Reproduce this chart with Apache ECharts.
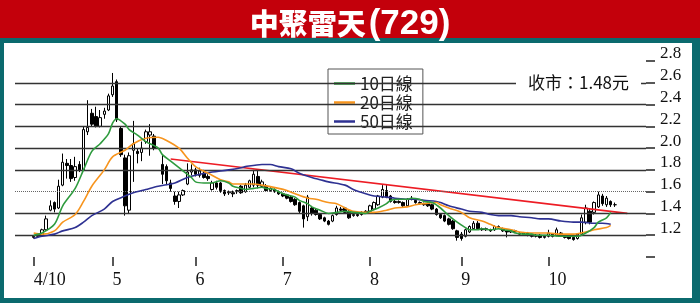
<!DOCTYPE html>
<html><head><meta charset="utf-8">
<script src="https://cdn.jsdelivr.net/npm/echarts@6/dist/echarts.min.js"></script>
<style>html,body{margin:0;padding:0;background:#0b6a6e;}#c{width:700px;height:303px;}</style>
</head><body><div id="c"></div>
<script>
// month tick positions (trading-day index) and labels
const tickIndex = [0, 19, 39, 60, 81, 103, 124];
const tickLabels = ['4/10', '5', '6', '7', '8', '9', '10'];
// daily candles: [open, close, low, high]
const candles = [
[1.18,1.19,1.17,1.20],[1.19,1.21,1.18,1.22],[1.20,1.25,1.19,1.26],[1.25,1.35,1.24,1.38],[1.43,1.47,1.42,1.52],
[1.50,1.44,1.41,1.51],[1.45,1.65,1.44,1.71],[1.66,1.87,1.65,1.95],[1.86,1.84,1.72,1.90],[1.84,1.72,1.69,1.90],
[1.73,1.83,1.70,1.92],[1.85,1.80,1.78,1.88],[1.80,2.17,1.79,2.20],[2.15,2.19,2.12,2.44],[2.32,2.22,2.20,2.36],
[2.29,2.20,2.19,2.38],[2.20,2.28,2.19,2.35],[2.31,2.34,2.27,2.37],[2.35,2.48,2.34,2.50],[2.49,2.57,2.47,2.69],
[2.61,2.26,2.24,2.63],[2.18,1.94,1.92,2.20],[1.91,1.47,1.38,1.94],[1.43,1.93,1.40,1.96],[1.98,2.04,1.69,2.25],
[1.97,1.95,1.86,2.00],[1.96,2.00,1.88,2.06],[2.06,2.15,2.04,2.17],[2.12,2.15,1.93,2.22],[2.11,2.00,1.98,2.13],
'-',[1.85,1.76,1.67,1.94],[1.83,1.70,1.66,1.85],[1.68,1.63,1.60,1.71],[1.56,1.51,1.48,1.60],
[1.51,1.57,1.45,1.60],[1.57,1.61,1.56,1.62],[1.67,1.78,1.66,1.86],[1.78,1.80,1.75,1.85],[1.80,1.76,1.74,1.82],
[1.75,1.79,1.73,1.82],[1.77,1.73,1.72,1.80],[1.74,1.72,1.70,1.76],[1.62,1.68,1.61,1.70],[1.68,1.64,1.62,1.70],
[1.68,1.61,1.59,1.69],[1.61,1.58,1.56,1.62],[1.59,1.60,1.57,1.61],[1.59,1.58,1.55,1.61],[1.60,1.61,1.58,1.62],
[1.65,1.59,1.58,1.66],[1.60,1.66,1.59,1.68],[1.64,1.70,1.63,1.71],[1.66,1.76,1.64,1.80],[1.74,1.66,1.63,1.79],
[1.65,1.69,1.64,1.71],[1.65,1.61,1.60,1.67],[1.61,1.63,1.60,1.64],[1.62,1.60,1.59,1.63],[1.60,1.58,1.57,1.61],
[1.58,1.56,1.55,1.59],[1.57,1.54,1.53,1.58],[1.55,1.51,1.50,1.56],[1.53,1.48,1.47,1.54],[1.50,1.42,1.40,1.51],
[1.47,1.35,1.27,1.48],[1.37,1.55,1.33,1.57],[1.45,1.40,1.38,1.47],[1.43,1.39,1.38,1.45],[1.39,1.35,1.34,1.40],
[1.36,1.33,1.32,1.37],[1.33,1.30,1.29,1.34],[1.33,1.38,1.32,1.39],[1.39,1.45,1.38,1.47],[1.44,1.43,1.42,1.46],
[1.45,1.41,1.40,1.46],[1.42,1.36,1.35,1.43],[1.38,1.39,1.37,1.40],[1.39,1.38,1.37,1.40],[1.39,1.41,1.38,1.42],
[1.41,1.42,1.40,1.43],[1.42,1.47,1.41,1.48],[1.44,1.50,1.43,1.51],[1.48,1.56,1.47,1.57],[1.55,1.62,1.54,1.66],
[1.61,1.55,1.54,1.66],[1.56,1.51,1.50,1.57],[1.51,1.50,1.49,1.53],[1.50,1.51,1.49,1.52],[1.50,1.47,1.46,1.51],
[1.47,1.53,1.46,1.54],[1.53,1.54,1.52,1.56],[1.52,1.50,1.49,1.53],[1.50,1.49,1.48,1.51],[1.49,1.48,1.47,1.50],
[1.49,1.47,1.46,1.50],[1.48,1.44,1.43,1.49],[1.44,1.39,1.38,1.45],[1.39,1.36,1.35,1.40],[1.38,1.33,1.32,1.39],
[1.35,1.30,1.29,1.36],[1.33,1.26,1.25,1.34],[1.24,1.18,1.15,1.25],[1.21,1.17,1.15,1.23],[1.19,1.25,1.18,1.26],
[1.23,1.28,1.22,1.29],[1.26,1.31,1.25,1.33],[1.31,1.26,1.25,1.33],[1.26,1.25,1.24,1.27],[1.25,1.26,1.24,1.27],
[1.25,1.24,1.23,1.26],[1.25,1.28,1.24,1.29],[1.28,1.27,1.26,1.29],[1.26,1.24,1.23,1.27],[1.24,1.23,1.18,1.25],
[1.23,1.24,1.22,1.25],[1.24,1.23,1.22,1.25],[1.22,1.21,1.20,1.23],[1.21,1.22,1.20,1.23],[1.22,1.20,1.19,1.23],
[1.20,1.19,1.18,1.21],[1.19,1.20,1.18,1.21],[1.20,1.18,1.17,1.21],[1.18,1.19,1.17,1.20],[1.19,1.22,1.18,1.25],
[1.21,1.19,1.18,1.22],[1.20,1.25,1.19,1.27],[1.22,1.20,1.19,1.23],[1.20,1.18,1.17,1.21],[1.19,1.17,1.16,1.20],
[1.18,1.16,1.15,1.19],[1.17,1.21,1.16,1.22],[1.21,1.36,1.20,1.39],[1.32,1.45,1.30,1.48],[1.42,1.32,1.30,1.44],
[1.41,1.50,1.39,1.51],[1.46,1.57,1.45,1.60],[1.56,1.49,1.47,1.58],[1.48,1.54,1.46,1.56],[1.51,1.48,1.46,1.52],
[1.48,1.48,1.46,1.50]
];
// moving averages: [dayIndex, value]
const ma10 = [[0,1.20],[2,1.22],[5,1.30],[7,1.47],[10,1.63],[12,1.80],[14,1.97],[16,2.04],[18,2.13],[19,2.23],[20,2.27],
[22,2.22],[23,2.17],[25,2.12],[27,2.06],[30,2.00],[31,1.94],[33,1.88],[35,1.82],[38,1.73],[39,1.69],[41,1.68],[43,1.68],
[45,1.70],[47,1.68],[48,1.65],[50,1.63],[51,1.62],[53,1.63],[55,1.64],[56,1.63],[58,1.62],[59,1.60],[61,1.57],[63,1.55],
[64,1.52],[66,1.49],[67,1.46],[69,1.43],[71,1.40],[73,1.41],[75,1.42],[77,1.41],[80,1.40],[81,1.42],[83,1.45],[85,1.49],
[86,1.52],[88,1.53],[90,1.53],[91,1.54],[93,1.53],[94,1.51],[96,1.50],[98,1.45],[100,1.38],[102,1.32],[104,1.27],[105,1.25],
[107,1.25],[108,1.26],[110,1.25],[112,1.26],[113,1.25],[115,1.24],[116,1.22],[118,1.21],[120,1.21],[121,1.20],[124,1.20],
[127,1.19],[130,1.19],[131,1.19],[133,1.22],[135,1.27],[136,1.32],[138,1.36],[139,1.41]];
const ma20 = [[0,1.22],[2,1.21],[5,1.24],[7,1.32],[10,1.39],[12,1.51],[14,1.65],[17,1.80],[19,1.92],[22,1.98],[24,2.04],
[27,2.09],[30,2.10],[32,2.07],[35,2.00],[37,1.91],[39,1.83],[42,1.77],[45,1.71],[47,1.69],[48,1.67],[53,1.67],[55,1.66],
[59,1.63],[61,1.61],[63,1.58],[66,1.54],[68,1.53],[71,1.50],[73,1.49],[75,1.45],[77,1.42],[80,1.41],[82,1.41],[85,1.43],
[87,1.45],[90,1.46],[92,1.48],[94,1.49],[97,1.50],[98,1.48],[100,1.45],[103,1.41],[105,1.36],[108,1.33],[110,1.30],
[112,1.27],[115,1.25],[117,1.23],[120,1.22],[122,1.22],[124,1.22],[127,1.21],[130,1.21],[133,1.23],[135,1.25],[138,1.27],[139,1.29]];
const ma50 = [[0,1.17],[2,1.19],[5,1.21],[7,1.24],[10,1.27],[12,1.32],[14,1.38],[17,1.44],[19,1.51],[22,1.56],[24,1.59],
[27,1.62],[30,1.65],[34,1.68],[37,1.73],[40,1.76],[43,1.78],[47,1.80],[50,1.82],[51,1.83],[55,1.85],[57,1.85],[59,1.83],
[62,1.81],[64,1.77],[67,1.73],[69,1.71],[71,1.69],[75,1.66],[77,1.62],[80,1.58],[82,1.56],[85,1.55],[87,1.54],[90,1.53],
[92,1.53],[94,1.52],[97,1.51],[98,1.50],[100,1.47],[103,1.44],[105,1.42],[108,1.41],[110,1.39],[112,1.38],[115,1.38],
[117,1.37],[120,1.36],[122,1.35],[124,1.35],[127,1.33],[130,1.32],[132,1.32],[135,1.31],[137,1.31],[139,1.30]];
const trendLine = [[33,1.90],[143,1.40]];
const gridValues = [1.2, 1.4, 1.6, 1.8, 2.0, 2.2, 2.4, 2.6];
const dottedGrid = 1.6;
const closeText = '收市：1.48元';
const seriesNames = ['10日線', '20日線', '50日線'];

const PAD_L = 4, TOTAL = 152;
const cats = new Array(TOTAL).fill('');
tickIndex.forEach((d, i) => { cats[d + PAD_L] = tickLabels[i]; });
const kdata = new Array(TOTAL).fill('-');
candles.forEach((c, i) => { kdata[i + PAD_L] = c; });
const shift = arr => arr.map(p => [p[0] + PAD_L, p[1]]);

const chart = echarts.init(document.getElementById('c'), null, {renderer: 'canvas'});
const serif = 'Liberation Serif, Times New Roman, serif';
const cjk = 'Noto Sans CJK TC, Noto Sans CJK SC, sans-serif';
chart.setOption({
  animation: false,
  backgroundColor: '#0b6a6e',
  graphic: [
    {type: 'rect', shape: {x: 0, y: 0, width: 700, height: 38}, style: {fill: '#c3000b'}, silent: true},
    {type: 'rect', shape: {x: 4, y: 43, width: 688, height: 255}, style: {fill: '#ffffff'}, silent: true}
  ],
  title: [
    {text: '{a|中聚雷天}{b|(729)}', left: 'center', top: 1,
     textStyle: {rich: {
       a: {fontFamily: cjk, fontSize: 29, fontWeight: 900, color: '#fff', lineHeight: 36},
       b: {fontFamily: 'Liberation Sans, Arial, sans-serif', fontSize: 35, fontWeight: 'bold', color: '#fff', lineHeight: 36, padding: [0, 0, 0, 3]}
     }}},
    {text: closeText, left: 516, top: 72, backgroundColor: '#fff', padding: [1, 12],
     textStyle: {fontFamily: cjk, fontSize: 17, fontWeight: 'normal', color: '#111', lineHeight: 20}}
  ],
  legend: {
    orient: 'vertical', left: 328, top: 69, itemGap: 0, padding: [5, 10, 3, 6],
    backgroundColor: '#fff', borderColor: '#555', borderWidth: 1,
    icon: 'rect', itemWidth: 21, itemHeight: 2.5,
    textStyle: {fontFamily: cjk, fontSize: 17, color: '#222', lineHeight: 19},
    data: seriesNames
  },
  grid: {left: 15, top: 61, right: 54, bottom: 46, show: true, borderColor: '#1a1a1a', borderWidth: 2, backgroundColor: '#fff'},
  xAxis: {
    type: 'category', data: cats, boundaryGap: true,
    axisLine: {show: false},
    axisTick: {show: true, alignWithLabel: true, length: 9, interval: (i, v) => v !== '', lineStyle: {color: '#222', width: 1.5}},
    axisLabel: {interval: (i, v) => v !== '', align: 'left', fontFamily: serif, fontSize: 18, color: '#111', margin: 14},
    splitLine: {show: false}
  },
  yAxis: {
    type: 'value', position: 'right', min: 1.0, max: 2.8, interval: 0.2,
    axisLine: {show: false},
    axisTick: {show: true, length: 9, lineStyle: {color: '#222', width: 1.5}},
    axisLabel: {formatter: v => v < 1.1 ? '' : v.toFixed(1), fontFamily: serif, fontSize: 17, color: '#111', margin: 14,
      align: 'left', verticalAlign: 'bottom', lineHeight: 14},
    splitLine: {show: false}
  },
  series: [
    {type: 'line', name: 'grid', data: [], z: 1, silent: true,
     markLine: {silent: true, symbol: 'none', label: {show: false}, animation: false,
       data: gridValues.map(v => ({yAxis: v, lineStyle: v === dottedGrid ? {color: '#666', width: 1, type: 'dotted'} : {color: '#333', width: 1.4, type: 'solid'}}))}},
    {type: 'candlestick', name: 'K', data: kdata, z: 3, barWidth: 3,
     itemStyle: {color: '#fff', color0: '#000', borderColor: '#000', borderColor0: '#000', borderWidth: 1}},
    {type: 'line', name: 'trend', data: trendLine.map(p => [p[0] + PAD_L, p[1]]), showSymbol: false, z: 4,
     lineStyle: {color: '#ed1c24', width: 1.7}},
    {type: 'line', name: seriesNames[2], data: shift(ma50), showSymbol: false, smooth: 0.3, z: 5, color: '#2e3192', lineStyle: {color: '#2e3192', width: 1.6}},
    {type: 'line', name: seriesNames[1], data: shift(ma20), showSymbol: false, smooth: 0.3, z: 5, color: '#f7941d', lineStyle: {color: '#f7941d', width: 1.6}},
    {type: 'line', name: seriesNames[0], data: shift(ma10), showSymbol: false, smooth: 0.3, z: 5, color: '#2e9b3e', lineStyle: {color: '#2e9b3e', width: 1.6}}
  ]
});
</script></body></html>
